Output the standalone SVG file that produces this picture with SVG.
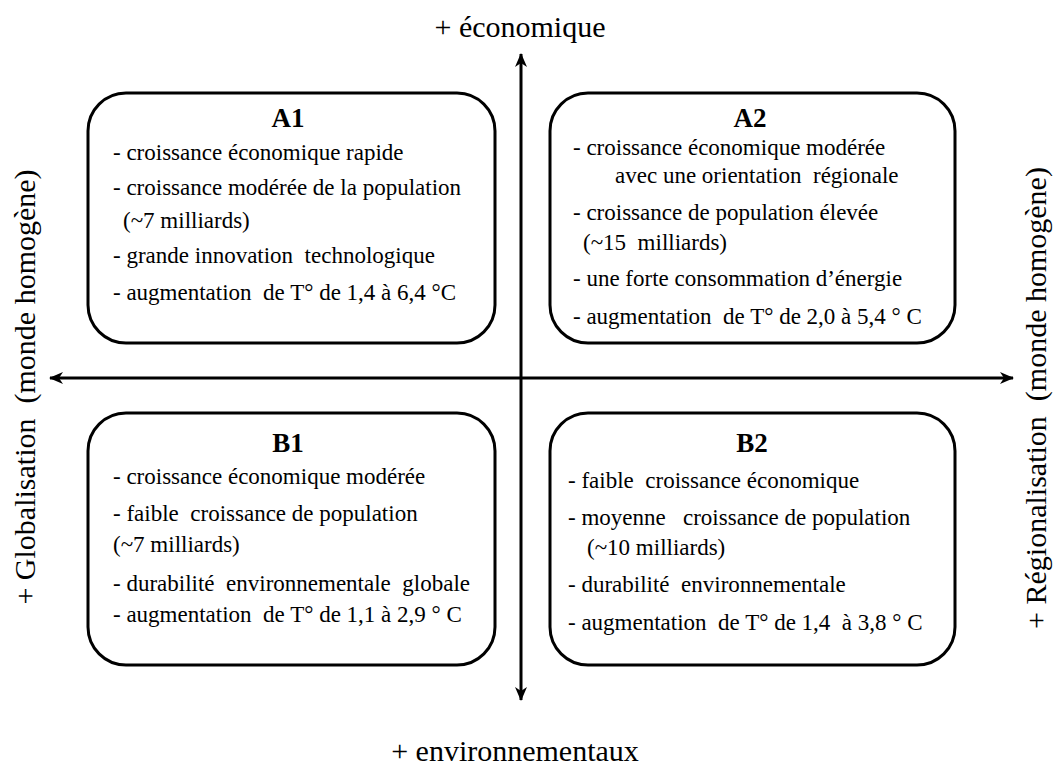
<svg xmlns="http://www.w3.org/2000/svg" width="1056" height="767" viewBox="0 0 1056 767">
<style>
.box{fill:#fff;stroke:#000;stroke-width:3}
.t{font-family:"Liberation Serif","Times New Roman",serif;font-size:23px;fill:#000;white-space:pre}
.h{font-family:"Liberation Serif","Times New Roman",serif;font-size:27px;font-weight:bold;fill:#000;text-anchor:middle}
.ax{font-family:"Liberation Serif","Times New Roman",serif;font-size:30px;fill:#000;white-space:pre}
.axl{stroke:#000;stroke-width:3;fill:none}
</style>
<defs>
<marker id="arr" viewBox="0 0 14 12" refX="13" refY="6" markerWidth="14" markerHeight="12" markerUnits="userSpaceOnUse" orient="auto-start-reverse">
<path d="M0,0 L14,6 L0,12 L4,6 z" fill="#000"/>
</marker>
</defs>
<rect width="1056" height="767" fill="#fff"/>
<g id="connectors">
<line class="axl" x1="521" y1="700" x2="521" y2="54" marker-end="url(#arr)" marker-start="url(#arr)"/>
<line class="axl" x1="50" y1="378" x2="1013" y2="378" marker-end="url(#arr)" marker-start="url(#arr)"/>
</g>
<g id="A1">
<rect class="box" x="88" y="93" width="407" height="250" rx="38" ry="38"/>
<text class="h" x="288" y="127">A1</text>
<text class="t" x="113" y="160">- croissance économique rapide</text>
<text class="t" x="113" y="195">- croissance modérée de la population</text>
<text class="t" x="123" y="228">(~7 milliards)</text>
<text class="t" x="113" y="263">- grande innovation  technologique</text>
<text class="t" x="113" y="300">- augmentation  de T° de 1,4 à 6,4 °C</text>
</g>
<g id="A2">
<rect class="box" x="550" y="93" width="405" height="250" rx="38" ry="38"/>
<text class="h" x="750" y="127">A2</text>
<text class="t" x="573" y="155">- croissance économique modérée</text>
<text class="t" x="615" y="183">avec une orientation  régionale</text>
<text class="t" x="573" y="220">- croissance de population élevée</text>
<text class="t" x="583" y="250">(~15  milliards)</text>
<text class="t" x="573" y="286">- une forte consommation d’énergie</text>
<text class="t" x="573" y="324">- augmentation  de T° de 2,0 à 5,4 ° C</text>
</g>
<g id="B1">
<rect class="box" x="88" y="413" width="407" height="252" rx="38" ry="38"/>
<text class="h" x="288" y="452">B1</text>
<text class="t" x="113" y="484">- croissance économique modérée</text>
<text class="t" x="113" y="521">- faible  croissance de population</text>
<text class="t" x="113" y="552">(~7 milliards)</text>
<text class="t" x="113" y="591">- durabilité  environnementale  globale</text>
<text class="t" x="113" y="622">- augmentation  de T° de 1,1 à 2,9 ° C</text>
</g>
<g id="B2">
<rect class="box" x="550" y="413" width="405" height="252" rx="38" ry="38"/>
<text class="h" x="752" y="452">B2</text>
<text class="t" x="568" y="488">- faible  croissance économique</text>
<text class="t" x="568" y="525">- moyenne   croissance de population</text>
<text class="t" x="587" y="555">(~10 milliards)</text>
<text class="t" x="568" y="592">- durabilité  environnementale</text>
<text class="t" x="568" y="630">- augmentation  de T° de 1,4  à 3,8 ° C</text>
</g>
<g id="labels">
<text class="ax" x="520" y="37" text-anchor="middle">+ économique</text>
<text class="ax" x="515" y="761" text-anchor="middle">+ environnementaux</text>
<text class="ax" transform="translate(35,387) rotate(-90)" text-anchor="middle">+ Globalisation  (monde homogène)</text>
<text class="ax" transform="translate(1046,398) rotate(-90)" text-anchor="middle">+ Régionalisation  (monde homogène)</text>
</g>
</svg>
